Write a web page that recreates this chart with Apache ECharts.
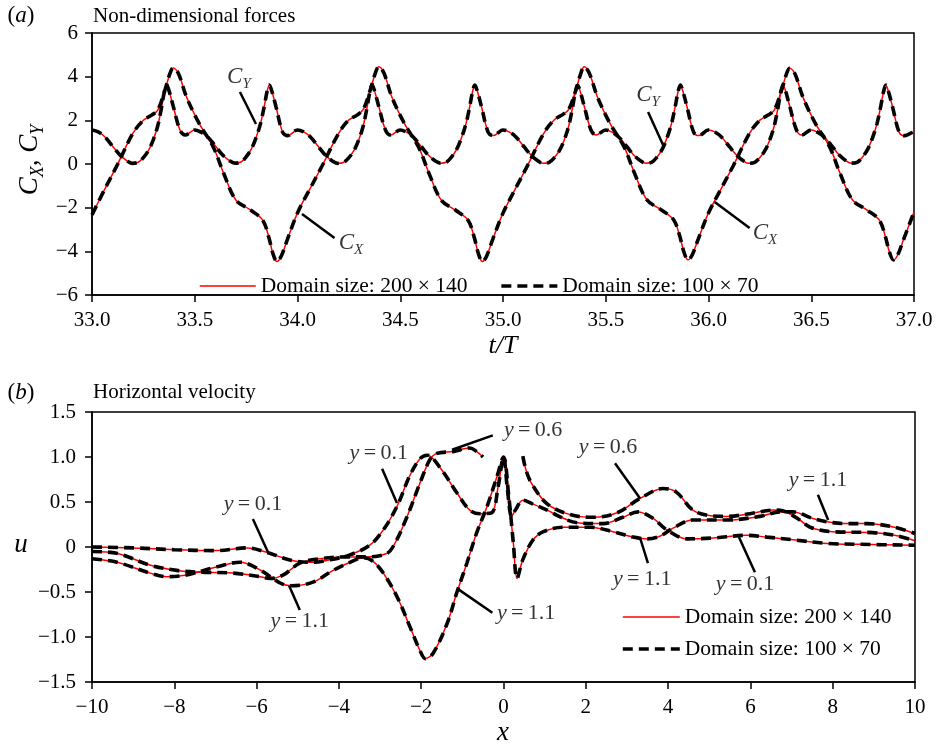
<!DOCTYPE html>
<html><head><meta charset="utf-8">
<script src="https://cdn.jsdelivr.net/npm/echarts@6/dist/echarts.min.js"></script>
<style>html,body{margin:0;padding:0;background:#fff}#c{width:936px;height:745px}</style>
</head><body><div id="c"></div>
<script>
// ---------- Panel (a): non-dimensional forces ----------
const tX = [
33.00,33.06,33.12,33.20,33.25,33.29,33.32,33.355,33.38,33.395,33.42,33.46,33.52,33.59,33.64,33.70,33.77,33.83,33.86,33.88,33.90,33.92,33.95,
34.00,34.06,34.12,34.20,34.25,34.29,34.32,34.355,34.38,34.395,34.42,34.46,34.52,34.59,34.64,34.70,34.77,34.83,34.86,34.88,34.90,34.92,34.95,
35.00,35.06,35.12,35.20,35.25,35.29,35.32,35.355,35.38,35.395,35.42,35.46,35.52,35.59,35.64,35.70,35.77,35.83,35.86,35.88,35.90,35.92,35.95,
36.00,36.06,36.12,36.20,36.25,36.29,36.32,36.355,36.38,36.395,36.42,36.46,36.52,36.59,36.64,36.70,36.77,36.83,36.86,36.88,36.90,36.92,36.95,
37.00];
const cX = [
-2.33,-1.19,-0.10,1.42,2.00,2.24,2.47,3.39,4.16,4.40,4.16,3.07,1.88,0.78,-0.41,-1.65,-2.10,-2.56,-3.34,-4.09,-4.47,-4.24,-3.48,
-2.24,-1.15,-0.08,1.40,2.02,2.24,2.50,3.42,4.20,4.45,4.18,3.05,1.86,0.76,-0.43,-1.66,-2.12,-2.58,-3.36,-4.10,-4.47,-4.22,-3.45,
-2.25,-1.14,-0.06,1.43,2.03,2.26,2.50,3.40,4.19,4.45,4.16,3.06,1.87,0.77,-0.42,-1.64,-2.10,-2.55,-3.30,-4.02,-4.39,-4.18,-3.44,
-2.24,-1.16,-0.09,1.41,2.01,2.24,2.47,3.37,4.14,4.38,4.14,3.05,1.86,0.77,-0.42,-1.64,-2.10,-2.55,-3.30,-4.02,-4.39,-4.18,-3.44,
-2.20];
const tY = [
33.000,33.030,33.063,33.103,33.136,33.169,33.195,33.225,33.248,33.275,33.298,33.320,33.339,33.352,33.363,33.375,33.396,33.428,33.453,
33.500,33.530,33.563,33.603,33.636,33.669,33.695,33.725,33.748,33.775,33.798,33.820,33.839,33.852,33.863,33.875,33.896,33.928,33.953,
34.000,34.030,34.063,34.103,34.136,34.169,34.195,34.225,34.248,34.275,34.298,34.320,34.339,34.352,34.363,34.375,34.396,34.428,34.453,
34.500,34.530,34.563,34.603,34.636,34.669,34.695,34.725,34.748,34.775,34.798,34.820,34.839,34.852,34.863,34.875,34.896,34.928,34.953,
35.000,35.030,35.063,35.103,35.136,35.169,35.195,35.225,35.248,35.275,35.298,35.320,35.339,35.352,35.363,35.375,35.396,35.428,35.453,
35.500,35.530,35.563,35.603,35.636,35.669,35.695,35.725,35.748,35.775,35.798,35.820,35.839,35.852,35.863,35.875,35.896,35.928,35.953,
36.000,36.030,36.063,36.103,36.136,36.169,36.195,36.225,36.248,36.275,36.298,36.320,36.339,36.352,36.363,36.375,36.396,36.428,36.453,
36.500,36.530,36.563,36.603,36.636,36.669,36.695,36.725,36.748,36.775,36.798,36.820,36.839,36.852,36.863,36.875,36.896,36.928,36.953,
37.000];
const cY = [
1.56,1.47,1.24,0.78,0.41,0.15,0.03,0.08,0.27,0.62,1.10,1.75,2.62,3.30,3.62,3.35,2.62,1.56,1.33,
1.56,1.46,1.24,0.79,0.41,0.15,0.04,0.09,0.30,0.68,1.20,1.85,2.68,3.32,3.62,3.34,2.60,1.45,1.30,
1.56,1.47,1.24,0.78,0.40,0.14,0.03,0.08,0.27,0.62,1.10,1.75,2.62,3.30,3.62,3.35,2.62,1.56,1.33,
1.56,1.46,1.24,0.79,0.41,0.15,0.04,0.09,0.30,0.68,1.20,1.85,2.68,3.32,3.62,3.34,2.60,1.45,1.30,
1.56,1.47,1.24,0.78,0.41,0.15,0.03,0.08,0.27,0.62,1.10,1.75,2.62,3.30,3.60,3.35,2.62,1.56,1.33,
1.56,1.46,1.24,0.79,0.41,0.15,0.04,0.09,0.30,0.68,1.20,1.85,2.68,3.32,3.62,3.34,2.60,1.45,1.30,
1.56,1.47,1.24,0.78,0.41,0.15,0.03,0.08,0.27,0.62,1.10,1.75,2.62,3.30,3.62,3.35,2.62,1.56,1.33,
1.56,1.46,1.24,0.79,0.41,0.15,0.04,0.09,0.30,0.68,1.20,1.85,2.68,3.32,3.62,3.34,2.60,1.45,1.30,
1.50];
const xTicksA = {min: 33, max: 37, step: 0.5};
const yTicksA = {min: -6, max: 6, step: 2};
const labA_t = [33.715, 34.26, 35.706, 36.275];
const labA_v = [3.98, -3.62, 3.16, -3.16];
const labA_s = ['Y', 'X', 'Y', 'X'];
const leadA = [[33.72,3.30,33.798,1.83],[34.022,-2.29,34.18,-3.39],[35.706,2.38,35.779,0.87],[36.03,-1.74,36.20,-2.93]];

// ---------- Panel (b): horizontal velocity ----------
const x01 = [-10,-9,-8,-7,-6.23,-5.75,-5.3,-5.0,-4.6,-4.3,-3.75,-3.25,-2.92,-2.59,-2.27,-2.03,-1.85,-1.54,-1.13,-0.82,-0.57,-0.29,-0.13,0,0.1,0.2,0.3,0.47,0.7,1.06,1.4,1.79,2.42,2.9,3.27,3.63,3.97,4.46,5.09,5.92,6.4,7.04,7.86,8.66,10];
const u01 = [0.0,-0.01,-0.03,-0.04,-0.01,-0.06,-0.13,-0.16,-0.17,-0.15,-0.09,0.02,0.19,0.45,0.80,0.98,1.02,0.88,0.60,0.41,0.37,0.38,0.67,1.00,0.62,0.34,0.42,0.52,0.48,0.41,0.33,0.27,0.26,0.33,0.39,0.32,0.19,0.09,0.10,0.13,0.11,0.08,0.04,0.03,0.02];
const x06 = [-10,-9.4,-8.6,-7.94,-7.37,-6.57,-5.92,-5.67,-5.35,-4.95,-4.46,-3.8,-3.32,-2.83,-2.64,-2.35,-2.03,-1.79,-1.62,-1.23,-0.82,-0.65,-0.5,null,0.47,0.55,0.69,1.06,1.62,2.18,2.76,3.32,3.88,4.2,4.6,5.0,5.43,5.99,6.55,6.8,7.2,7.45,8.0,8.97,9.5,10];
const u06 = [-0.05,-0.07,-0.20,-0.26,-0.28,-0.29,-0.33,-0.35,-0.31,-0.18,-0.13,-0.11,-0.11,-0.07,0.04,0.33,0.71,0.97,1.04,1.06,1.10,1.06,1.00,null,1.01,0.85,0.70,0.48,0.36,0.33,0.38,0.54,0.65,0.61,0.41,0.35,0.34,0.37,0.41,0.40,0.30,0.22,0.17,0.16,0.13,0.07];
const x11 = [-10,-9.39,-8.59,-8.18,-7.7,-6.96,-6.4,-5.9,-5.43,-5.15,-4.63,-4.14,-3.73,-3.4,-3.17,-2.92,-2.59,-2.27,-2.03,-1.9,-1.71,-1.37,-1.13,-0.89,-0.65,-0.4,-0.16,0,0.12,0.24,0.33,0.47,0.72,0.97,1.45,2.1,2.66,3.15,3.49,3.8,4.12,4.6,5.43,6.23,6.72,7.04,7.5,7.86,8.3,8.83,9.5,10];
const u11 = [-0.13,-0.17,-0.29,-0.33,-0.31,-0.22,-0.17,-0.26,-0.40,-0.43,-0.39,-0.26,-0.17,-0.12,-0.16,-0.29,-0.55,-0.89,-1.15,-1.24,-1.18,-0.85,-0.50,-0.18,0.16,0.45,0.78,1.00,0.60,0.04,-0.35,-0.14,0.08,0.17,0.22,0.22,0.17,0.11,0.09,0.12,0.21,0.30,0.30,0.34,0.39,0.39,0.32,0.28,0.26,0.26,0.22,0.15];
const xTicksB = {min: -10, max: 10, step: 2};
const yTicksB = {min: -1.5, max: 1.5, step: 0.5};
const labB_x = [-6.09,-4.95,-3.03,0.72,0.55,2.54,7.64,3.37,5.87];
const labB_u = [0.47,-0.82,1.04,1.30,-0.74,1.11,0.74,-0.36,-0.41];
const labB_s = ['0.1','1.1','0.1','0.6','1.1','0.6','1.1','1.1','0.1'];
const leadB = [[-6.09,0.31,-5.72,-0.06],[-5.21,-0.43,-4.95,-0.70],[-2.95,0.87,-2.59,0.49],[-1.25,1.08,-0.26,1.24],[-1.13,-0.46,-0.27,-0.73],[2.71,0.93,3.32,0.54],[7.64,0.58,7.89,0.30],[3.32,0.10,3.51,-0.18],[5.72,0.11,6.11,-0.28]];

const NAME_FINE = 'Domain size: 200 \u00d7 140';
const NAME_COARSE = 'Domain size: 100 \u00d7 70';

// ---------- build ----------
const FF = '"Liberation Serif","Times New Roman",serif';
const FS = 21;
const pairs = (xs, ys) => xs.map((x, i) => (x === null ? ['-', '-'] : [x, ys[i]]));
const minus = s => String(s).replace('-', '\u2212');

function axisCommon(extra) {
  return Object.assign({
    type: 'value',
    axisLine: {onZero: false, lineStyle: {color: '#000', width: 1.5}},
    axisTick: {inside: false, length: 7, lineStyle: {color: '#000', width: 1.5}},
    splitLine: {show: false}
  }, extra);
}
const RED_LINE = {color: '#ff0000', width: 1.5, type: 'solid'};
const BLACK_LINE = {color: '#000', width: 3.6, type: [10, 6], cap: 'butt'};

function redSeries(data, xi) {
  return {type: 'line', name: NAME_FINE, xAxisIndex: xi, yAxisIndex: xi, data, showSymbol: false, symbol: 'none',
    smooth: 0.35, connectNulls: false, z: 2, lineStyle: RED_LINE, itemStyle: {color: '#ff0000'}};
}
function blackSeries(data, xi) {
  return {type: 'line', name: NAME_COARSE, xAxisIndex: xi, yAxisIndex: xi, data, showSymbol: false, symbol: 'none',
    smooth: 0.35, connectNulls: false, z: 3, lineStyle: BLACK_LINE, itemStyle: {color: '#000'}};
}

const dCX = pairs(tX, cX), dCY = pairs(tY, cY);
const d01 = pairs(x01, u01), d06 = pairs(x06, u06), d11 = pairs(x11, u11);

const richC = {
  c: {fontFamily: FF, fontStyle: 'italic', fontSize: 23, color: '#000', lineHeight: 29},
  s: {fontFamily: FF, fontStyle: 'italic', fontSize: 15, color: '#000', verticalAlign: 'bottom', lineHeight: 29}
};
const richY = {
  i: {fontFamily: FF, fontStyle: 'italic', fontSize: 22, color: '#000'},
  n: {fontFamily: FF, fontSize: 22, color: '#000'}
};
const legendItems = [
  {name: NAME_FINE, itemStyle: {opacity: 0}, lineStyle: RED_LINE},
  {name: NAME_COARSE, itemStyle: {opacity: 0}, lineStyle: BLACK_LINE}
];
const tickLabel = (margin, fmt) => ({color: '#000', fontFamily: FF, fontSize: FS, margin, formatter: fmt});

const option = {
  animation: false,
  backgroundColor: '#fff',
  grid: [
    {left: 92, top: 33, width: 822, height: 262, show: true, borderColor: '#000', borderWidth: 1.5, backgroundColor: 'transparent'},
    {left: 92, top: 412, width: 823, height: 270, show: true, borderColor: '#000', borderWidth: 1.5, backgroundColor: 'transparent'}
  ],
  xAxis: [
    axisCommon({gridIndex: 0, min: xTicksA.min, max: xTicksA.max, interval: xTicksA.step, axisLabel: tickLabel(15, v => v.toFixed(1))}),
    axisCommon({gridIndex: 1, min: xTicksB.min, max: xTicksB.max, interval: xTicksB.step, axisLabel: tickLabel(15, v => minus(v))})
  ],
  yAxis: [
    axisCommon({gridIndex: 0, min: yTicksA.min, max: yTicksA.max, interval: yTicksA.step, axisLabel: tickLabel(14, v => minus(v))}),
    axisCommon({gridIndex: 1, min: yTicksB.min, max: yTicksB.max, interval: yTicksB.step,
      axisLabel: tickLabel(16, v => v === 0 ? '0' : minus(v.toFixed(1)))})
  ],
  legend: [
    {data: legendItems, left: 194, top: 270, itemWidth: 56, itemHeight: 14, itemGap: 32, selectedMode: false,
      textStyle: {fontFamily: FF, fontSize: 21.5, color: '#000'}},
    {data: legendItems, orient: 'vertical', left: 616, top: 601, itemWidth: 57, itemHeight: 14, itemGap: 10, selectedMode: false,
      textStyle: {fontFamily: FF, fontSize: 21.5, color: '#000'}}
  ],
  series: [
    redSeries(dCX, 0), redSeries(dCY, 0),
    redSeries(d01, 1), redSeries(d06, 1), redSeries(d11, 1),
    blackSeries(dCX, 0), blackSeries(dCY, 0),
    blackSeries(d01, 1), blackSeries(d06, 1), blackSeries(d11, 1),
    {type: 'lines', coordinateSystem: 'cartesian2d', xAxisIndex: 0, yAxisIndex: 0, z: 4, silent: true,
      lineStyle: {color: '#000', width: 2.5, opacity: 1, cap: 'butt'},
      data: leadA.map(l => ({coords: [[l[0], l[1]], [l[2], l[3]]]}))},
    {type: 'lines', coordinateSystem: 'cartesian2d', xAxisIndex: 1, yAxisIndex: 1, z: 4, silent: true,
      lineStyle: {color: '#000', width: 2.5, opacity: 1, cap: 'butt'},
      data: leadB.map(l => ({coords: [[l[0], l[1]], [l[2], l[3]]]}))},
    {type: 'scatter', xAxisIndex: 0, yAxisIndex: 0, symbolSize: 0, z: 5, silent: true,
      data: labA_t.map((t, i) => ({value: [t, labA_v[i]], label: {show: true, position: 'inside',
        formatter: '{c|C}{s|' + labA_s[i] + '}', rich: richC}}))},
    {type: 'scatter', xAxisIndex: 1, yAxisIndex: 1, symbolSize: 0, z: 5, silent: true,
      data: labB_x.map((x, i) => ({value: [x, labB_u[i]], label: {show: true, position: 'inside',
        formatter: '{i|y}{n|\u2009=\u2009' + labB_s[i] + '}', rich: richY}}))}
  ],
  graphic: [
    {type: 'text', x: 21, y: 16, style: {text: '({i|a})', align: 'center', verticalAlign: 'middle', font: '23px ' + FF, fill: '#000',
      rich: {i: {fontFamily: FF, fontStyle: 'italic', fontSize: 23, fill: '#000'}}}},
    {type: 'text', x: 93, y: 16, style: {text: 'Non-dimensional forces', align: 'left', verticalAlign: 'middle', font: FS + 'px ' + FF, fill: '#000'}},
    {type: 'text', x: 21, y: 393, style: {text: '({i|b})', align: 'center', verticalAlign: 'middle', font: '23px ' + FF, fill: '#000',
      rich: {i: {fontFamily: FF, fontStyle: 'italic', fontSize: 23, fill: '#000'}}}},
    {type: 'text', x: 93, y: 392, style: {text: 'Horizontal velocity', align: 'left', verticalAlign: 'middle', font: FS + 'px ' + FF, fill: '#000'}},
    {type: 'text', x: 30, y: 160, rotation: Math.PI / 2, style: {text: '{c|C}{s|X}{c|, C}{s|Y}', align: 'center', verticalAlign: 'middle',
      rich: {c: {fontFamily: FF, fontStyle: 'italic', fontSize: 27, fill: '#000', lineHeight: 34},
             s: {fontFamily: FF, fontStyle: 'italic', fontSize: 18, fill: '#000', verticalAlign: 'bottom', lineHeight: 34}}}},
    {type: 'text', x: 503, y: 346, style: {text: 't/T', align: 'center', verticalAlign: 'middle', font: 'italic 26px ' + FF, fill: '#000'}},
    {type: 'text', x: 21, y: 545, style: {text: 'u', align: 'center', verticalAlign: 'middle', font: 'italic 27px ' + FF, fill: '#000'}},
    {type: 'text', x: 503, y: 733, style: {text: 'x', align: 'center', verticalAlign: 'middle', font: 'italic 27px ' + FF, fill: '#000'}}
  ]
};

const chart = echarts.init(document.getElementById('c'), null, {renderer: 'canvas'});
chart.setOption(option);
</script>
</body></html>
